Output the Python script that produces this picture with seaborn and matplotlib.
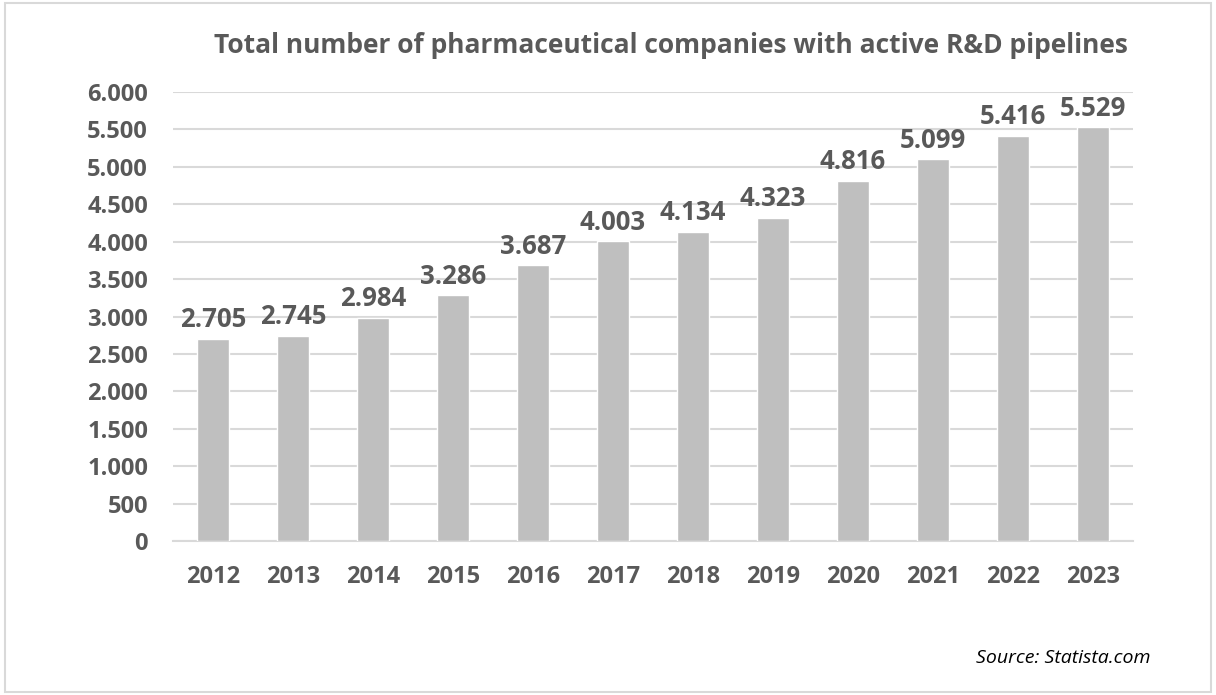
import pandas as pd
import matplotlib.pyplot as plt
import seaborn as sns
from matplotlib.patches import Rectangle
from matplotlib.ticker import FuncFormatter

years = ['2012', '2013', '2014', '2015', '2016', '2017',
         '2018', '2019', '2020', '2021', '2022', '2023']
companies = [2705, 2745, 2984, 3286, 3687, 4003, 4134, 4323, 4816, 5099, 5416, 5529]

df = pd.DataFrame({'Year': years, 'Companies': companies})

sns.set_style('white')
plt.rcParams['font.family'] = ['Open Sans', 'DejaVu Sans']

text_color = '#595959'
grid_color = '#D9D9D9'


def dotted(v, pos=None):
    # European style thousands separator
    return f'{int(v):,}'.replace(',', '.')


fig = plt.figure(figsize=(12.16, 6.95), dpi=100)
ax = fig.add_axes([0.1423, 0.2216, 0.7894, 0.646])

sns.barplot(data=df, x='Year', y='Companies', color='#BFBFBF', saturation=1,
            width=0.4, ax=ax, zorder=3)

ax.set_ylim(0, 6000)
ax.set_xlim(-0.5, len(years) - 0.5)
ax.set_yticks(range(0, 6001, 500))
ax.yaxis.set_major_formatter(FuncFormatter(dotted))
ax.yaxis.grid(True, color=grid_color, linewidth=1.5, zorder=0)
ax.set_axisbelow(True)
for s in ['top', 'right', 'left']:
    ax.spines[s].set_visible(False)
ax.spines['bottom'].set_color(grid_color)
ax.spines['bottom'].set_linewidth(1.5)
ax.tick_params(axis='y', length=0, pad=18, labelsize=17, labelcolor=text_color)
ax.tick_params(axis='x', length=0, pad=17, labelsize=17, labelcolor=text_color)
for lbl in ax.get_xticklabels() + ax.get_yticklabels():
    lbl.set_fontweight('bold')
ax.set_xlabel('')
ax.set_ylabel('')

ax.bar_label(ax.containers[0], labels=[dotted(v) for v in companies], padding=4,
             fontsize=18.5, fontweight='bold', color=text_color)

fig.text(0.552, 0.935, 'Total number of pharmaceutical companies with active R&D pipelines',
         ha='center', va='center', fontsize=19, fontweight='bold', color=text_color)
fig.text(0.946, 0.053, 'Source: Statista.com', ha='right', va='center',
         fontsize=14, style='italic', color='black')

fig.patches.append(Rectangle((0.004, 0.004), 0.992, 0.992, transform=fig.transFigure,
                             fill=False, edgecolor=grid_color, linewidth=1.5))

plt.savefig('out.png', dpi=100)
plt.close()
